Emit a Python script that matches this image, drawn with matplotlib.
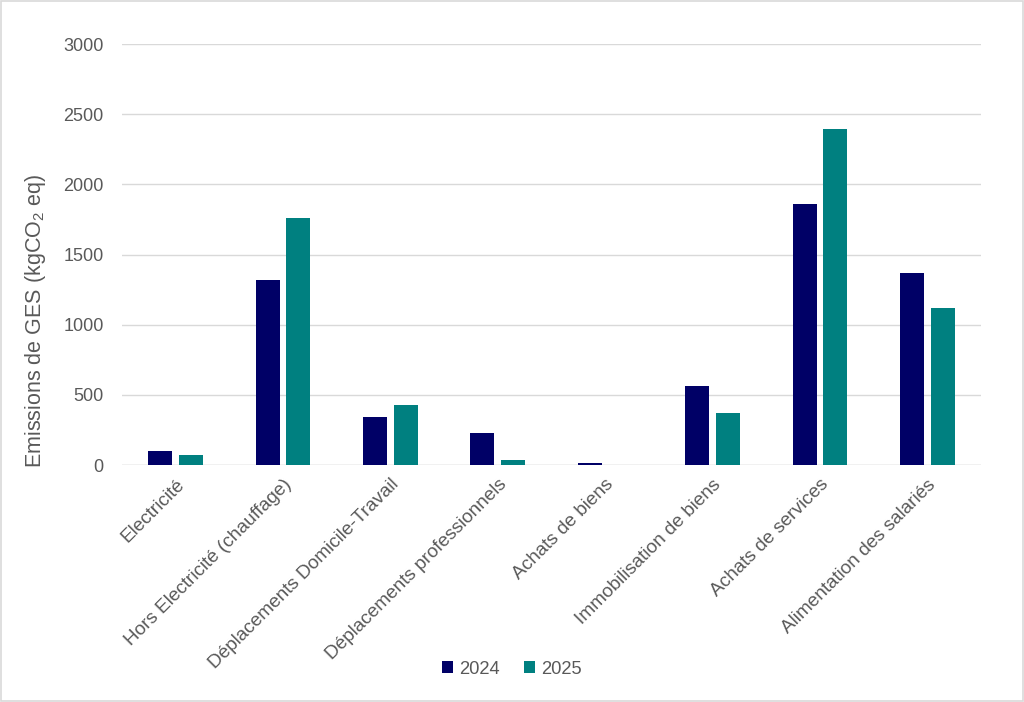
import numpy as np
import matplotlib.pyplot as plt
from matplotlib.patches import Rectangle

categories = ["Electricité", "Hors Electricité (chauffage)", "Déplacements Domicile-Travail",
              "Déplacements professionnels", "Achats de biens", "Immobilisation de biens",
              "Achats de services", "Alimentation des salariés"]
values_2024 = [98, 1317, 340, 231, 14, 562, 1857, 1371]
values_2025 = [69, 1764, 426, 38, 0, 369, 2398, 1119]

NAVY = "#000066"
TEAL = "#008080"
GREY = "#595959"

plt.rcParams['font.family'] = ['Liberation Sans', 'DejaVu Sans']
plt.rcParams['mathtext.fontset'] = 'custom'
plt.rcParams['mathtext.rm'] = 'Liberation Sans'
plt.rcParams['mathtext.default'] = 'rm'

fig = plt.figure(figsize=(10.24, 7.02), dpi=100)
ax = fig.add_axes([0.119, 0.3376, 0.839, 0.5996])

x = np.arange(len(categories))
w = 0.223
gap = 0.063
ax.bar(x - (w + gap) / 2, values_2024, w, color=NAVY, label="2024", zorder=3)
ax.bar(x + (w + gap) / 2, values_2025, w, color=TEAL, label="2025", zorder=3)

ax.set_xlim(-0.5, len(categories) - 0.5)
ax.set_ylim(0, 3000)
ax.set_yticks(np.arange(0, 3001, 500))
ax.yaxis.grid(True, color="#d9d9d9", linewidth=1, zorder=0)
for s in ax.spines.values():
    s.set_visible(False)
ax.axhline(0, color="#d9d9d9", linewidth=1, zorder=2)
ax.tick_params(axis="both", length=0, labelcolor=GREY)
ax.tick_params(axis="y", pad=13, labelsize=13)
ax.tick_params(axis="x", pad=8, labelsize=13.7)
ax.set_xticks(x)
ax.set_xticklabels(categories, rotation=45, ha="right", rotation_mode="anchor")
ax.set_ylabel("Emissions de GES (kgCO$_2$ eq)", fontsize=15.5, color=GREY)
ax.yaxis.set_label_coords(-0.086, 0.342)

leg = fig.legend(loc="center", bbox_to_anchor=(0.5, 1 - 669 / 702), ncol=2, frameon=False,
                 fontsize=13.2, handlelength=0.6, handleheight=0.6, handletextpad=0.35,
                 columnspacing=1.3)
for t in leg.get_texts():
    t.set_color(GREY)

fig.patches.append(Rectangle((0.001, 0.001), 0.998, 0.998, transform=fig.transFigure,
                             fill=False, edgecolor="#d9d9d9", linewidth=1.2))

fig.savefig("out.png", dpi=100)
